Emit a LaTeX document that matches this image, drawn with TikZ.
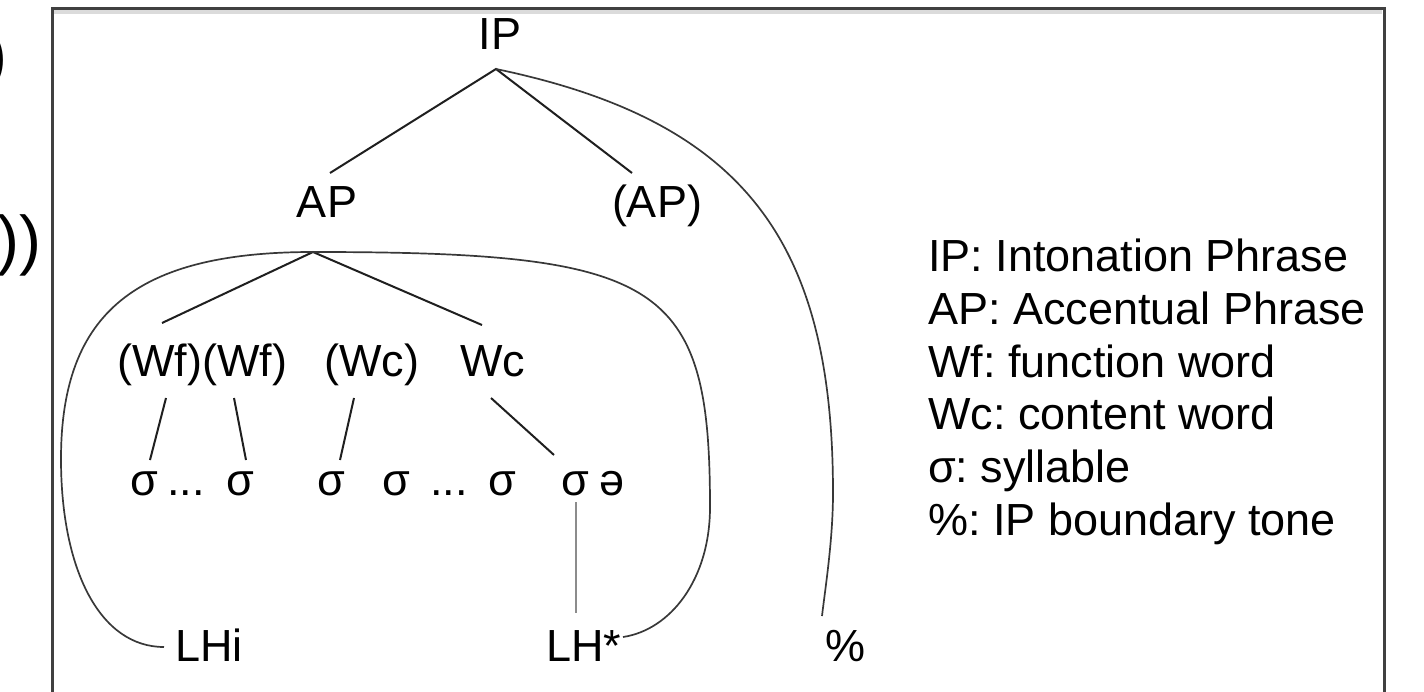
\documentclass[tikz,border=0pt]{standalone}
\usepackage{fontspec}
\setmainfont{Liberation Sans}
\frenchspacing
\begin{document}
\begin{tikzpicture}[x=1pt,y=-1pt,
  lbl/.style={inner sep=0pt,font=\fontsize{45}{54}\selectfont},
  legendline/.style={lbl,anchor=base west},
  branch/.style={line width=2pt,draw=black!88},
  arc/.style={line width=1.7pt,draw=black!78},
  assoc/.style={line width=2pt,draw=black!45},
  frameline/.style={line width=3pt,draw=black!75},
  paren/.style={inner sep=0pt,font=\fontsize{66}{70}\selectfont}]
\useasboundingbox (0,0) rectangle (1424,692);
\clip (0,0) rectangle (1424,692);

% closing brackets of the preceding text, cut by the page edge
\node[paren,anchor=base east] (pa) at (8,78) {)};
\node[paren,anchor=base east] (pb) at (42,263) {))};

% frame
\fill[black!14] (54,10) rectangle (1382,14);
\draw[frameline] (52.5,700) -- (52.5,8.5) -- (1384,8.5) -- (1384,700);

% tree labels
\node[lbl,anchor=base] (ip) at (500,50) {IP};
\node[lbl,anchor=base] (ap) at (327,218) {AP};
\node[lbl,anchor=base] (apo) at (657,218) {(AP)};
\node[lbl,anchor=base west] (wf1) at (117,377) {(Wf)};
\node[lbl,anchor=base west] (wf2) at (202,377) {(Wf)};
\node[lbl,anchor=base west] (wc1) at (324,377) {(Wc)};
\node[lbl,anchor=base west] (wc2) at (460,377) {Wc};

\node[lbl,anchor=base] (s1) at (144,495) {σ};
\node[lbl,anchor=base] (d1) at (186,495) {...};
\node[lbl,anchor=base] (s2) at (240,495) {σ};
\node[lbl,anchor=base] (s3) at (331,495) {σ};
\node[lbl,anchor=base] (s4) at (396,495) {σ};
\node[lbl,anchor=base] (d2) at (449,495) {...};
\node[lbl,anchor=base] (s5) at (502,495) {σ};
\node[lbl,anchor=base] (s6) at (575,495) {σ};
\node[lbl,anchor=base] (sch) at (612,495) {ə};

\node[lbl,anchor=base west] (lhi) at (175,661) {LHi};
\node[lbl,anchor=base west] (lhs) at (546,661) {LH*};
\node[lbl,anchor=base west] (bt) at (825,661) {\%};

% branch points and line ends
\coordinate (ipj) at (496,69);
\coordinate (apt) at (330,173);
\coordinate (apot) at (632,173);
\coordinate (apj) at (313,252);
\coordinate (wft) at (162,323);
\coordinate (wct) at (482,325);
\coordinate (wf1b) at (166,398);
\coordinate (s1t) at (150,460);
\coordinate (wf2b) at (234,398);
\coordinate (s2t) at (246,460);
\coordinate (wc1b) at (354,398);
\coordinate (s3t) at (340,460);
\coordinate (wc2b) at (491,398);
\coordinate (s6t) at (554,455);
\coordinate (s6b) at (576,502);
\coordinate (lhst) at (576,613);
\coordinate (lhiw) at (164,647);
\coordinate (lhse) at (623,637);
\coordinate (btt) at (822,616);
\coordinate (apl) at (61,459);
\coordinate (apr) at (710,507);
\coordinate (ipr) at (833,493);

% constituent structure
\draw[branch] (apt) -- (ipj) -- (apot);
\draw[branch] (wft) -- (apj) -- (wct);
\draw[branch] (wf1b) -- (s1t);
\draw[branch] (wf2b) -- (s2t);
\draw[branch] (wc1b) -- (s3t);
\draw[branch] (wc2b) -- (s6t);

% tone association
\draw[assoc] (s6b) -- (lhst);
\draw[arc] (apj) .. controls (137,252) and (61,312) .. (apl)
               .. controls (61,570) and (100,647) .. (lhiw);
\draw[arc] (apj) .. controls (662,252) and (710,282) .. (apr)
               .. controls (710,580) and (670,630) .. (lhse);
\draw[arc] (ipj) .. controls (746,121) and (833,243) .. (ipr)
               .. controls (833,540) and (825,590) .. (btt);

% legend
\node[legendline] (l1) at (928,272) {IP: Intonation Phrase};
\node[legendline] (l2) at (928,324.6) {AP: Accentual Phrase};
\node[legendline] (l3) at (928,377.2) {Wf: function word};
\node[legendline] (l4) at (928,429.8) {Wc: content word};
\node[legendline] (l5) at (928,482.4) {σ: syllable};
\node[legendline] (l6) at (928,535) {\%: IP boundary tone};
\end{tikzpicture}
\end{document}
